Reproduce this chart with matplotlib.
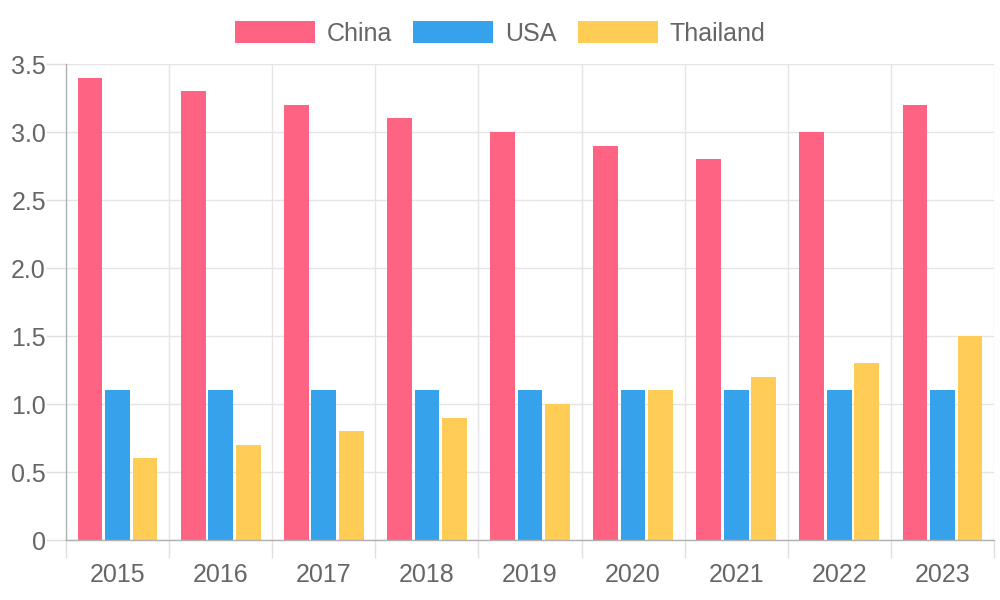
import numpy as np
import matplotlib
matplotlib.use('Agg')
import matplotlib.pyplot as plt
from matplotlib.ticker import FuncFormatter

plt.rcParams['font.family'] = ['Liberation Sans', 'DejaVu Sans']

years = ['2015', '2016', '2017', '2018', '2019', '2020', '2021', '2022', '2023']
china = [3.4, 3.3, 3.2, 3.1, 3.0, 2.9, 2.8, 3.0, 3.2]
usa = [1.1, 1.1, 1.1, 1.1, 1.1, 1.1, 1.1, 1.1, 1.1]
thailand = [0.6, 0.7, 0.8, 0.9, 1.0, 1.1, 1.2, 1.3, 1.5]

series = [('China', china, '#FF6384'),
          ('USA', usa, '#36A2EB'),
          ('Thailand', thailand, '#FFCD56')]

fig = plt.figure(figsize=(10, 6), dpi=100)
ax = fig.add_axes([0.066, 0.1, 0.928, 0.7933])

x = np.arange(len(years))
slot = 0.8 / 3
for i, (name, vals, col) in enumerate(series):
    ax.bar(x + (i - 1) * slot, vals, width=slot * 0.9, color=col, label=name,
           zorder=3)

ax.set_xlim(-0.5, len(years) - 0.5)
ax.set_ylim(0, 3.5)
ax.set_yticks(np.arange(0, 3.51, 0.5))
ax.yaxis.set_major_formatter(FuncFormatter(lambda v, p: '0' if v == 0 else f'{v:.1f}'))

ax.set_xticks(x)
ax.set_xticklabels(years)
ax.set_xticks(np.arange(-0.5, len(years), 1), minor=True)

ax.grid(False)
ax.grid(axis='y', which='major', color='#e5e5e5', linewidth=1, zorder=0)
ax.grid(axis='x', which='minor', color='#e5e5e5', linewidth=1, zorder=0)

# tick lengths in points (20px ~ 14.4pt, 18px ~ 13pt)
ax.tick_params(axis='x', which='major', length=0, pad=16.5, labelsize=18,
               labelcolor='#666666')
ax.tick_params(axis='x', which='minor', length=13, color='#e0e0e0', width=1)
ax.tick_params(axis='y', which='major', length=14.4, color='#e0e0e0', width=1,
               pad=0, labelsize=18, labelcolor='#666666')

for s in ['top', 'right']:
    ax.spines[s].set_visible(False)
for s in ['left', 'bottom']:
    ax.spines[s].set_color('#b0b0b0')
    ax.spines[s].set_linewidth(1)
    ax.spines[s].set_zorder(4)

fig.legend(loc='center', bbox_to_anchor=(0.5, 0.944), ncol=3, frameon=False,
           fontsize=18, labelcolor='#666666', handlelength=3.2,
           handleheight=0.96, handletextpad=0.48, columnspacing=0.84)

plt.savefig('out.png', dpi=100)
